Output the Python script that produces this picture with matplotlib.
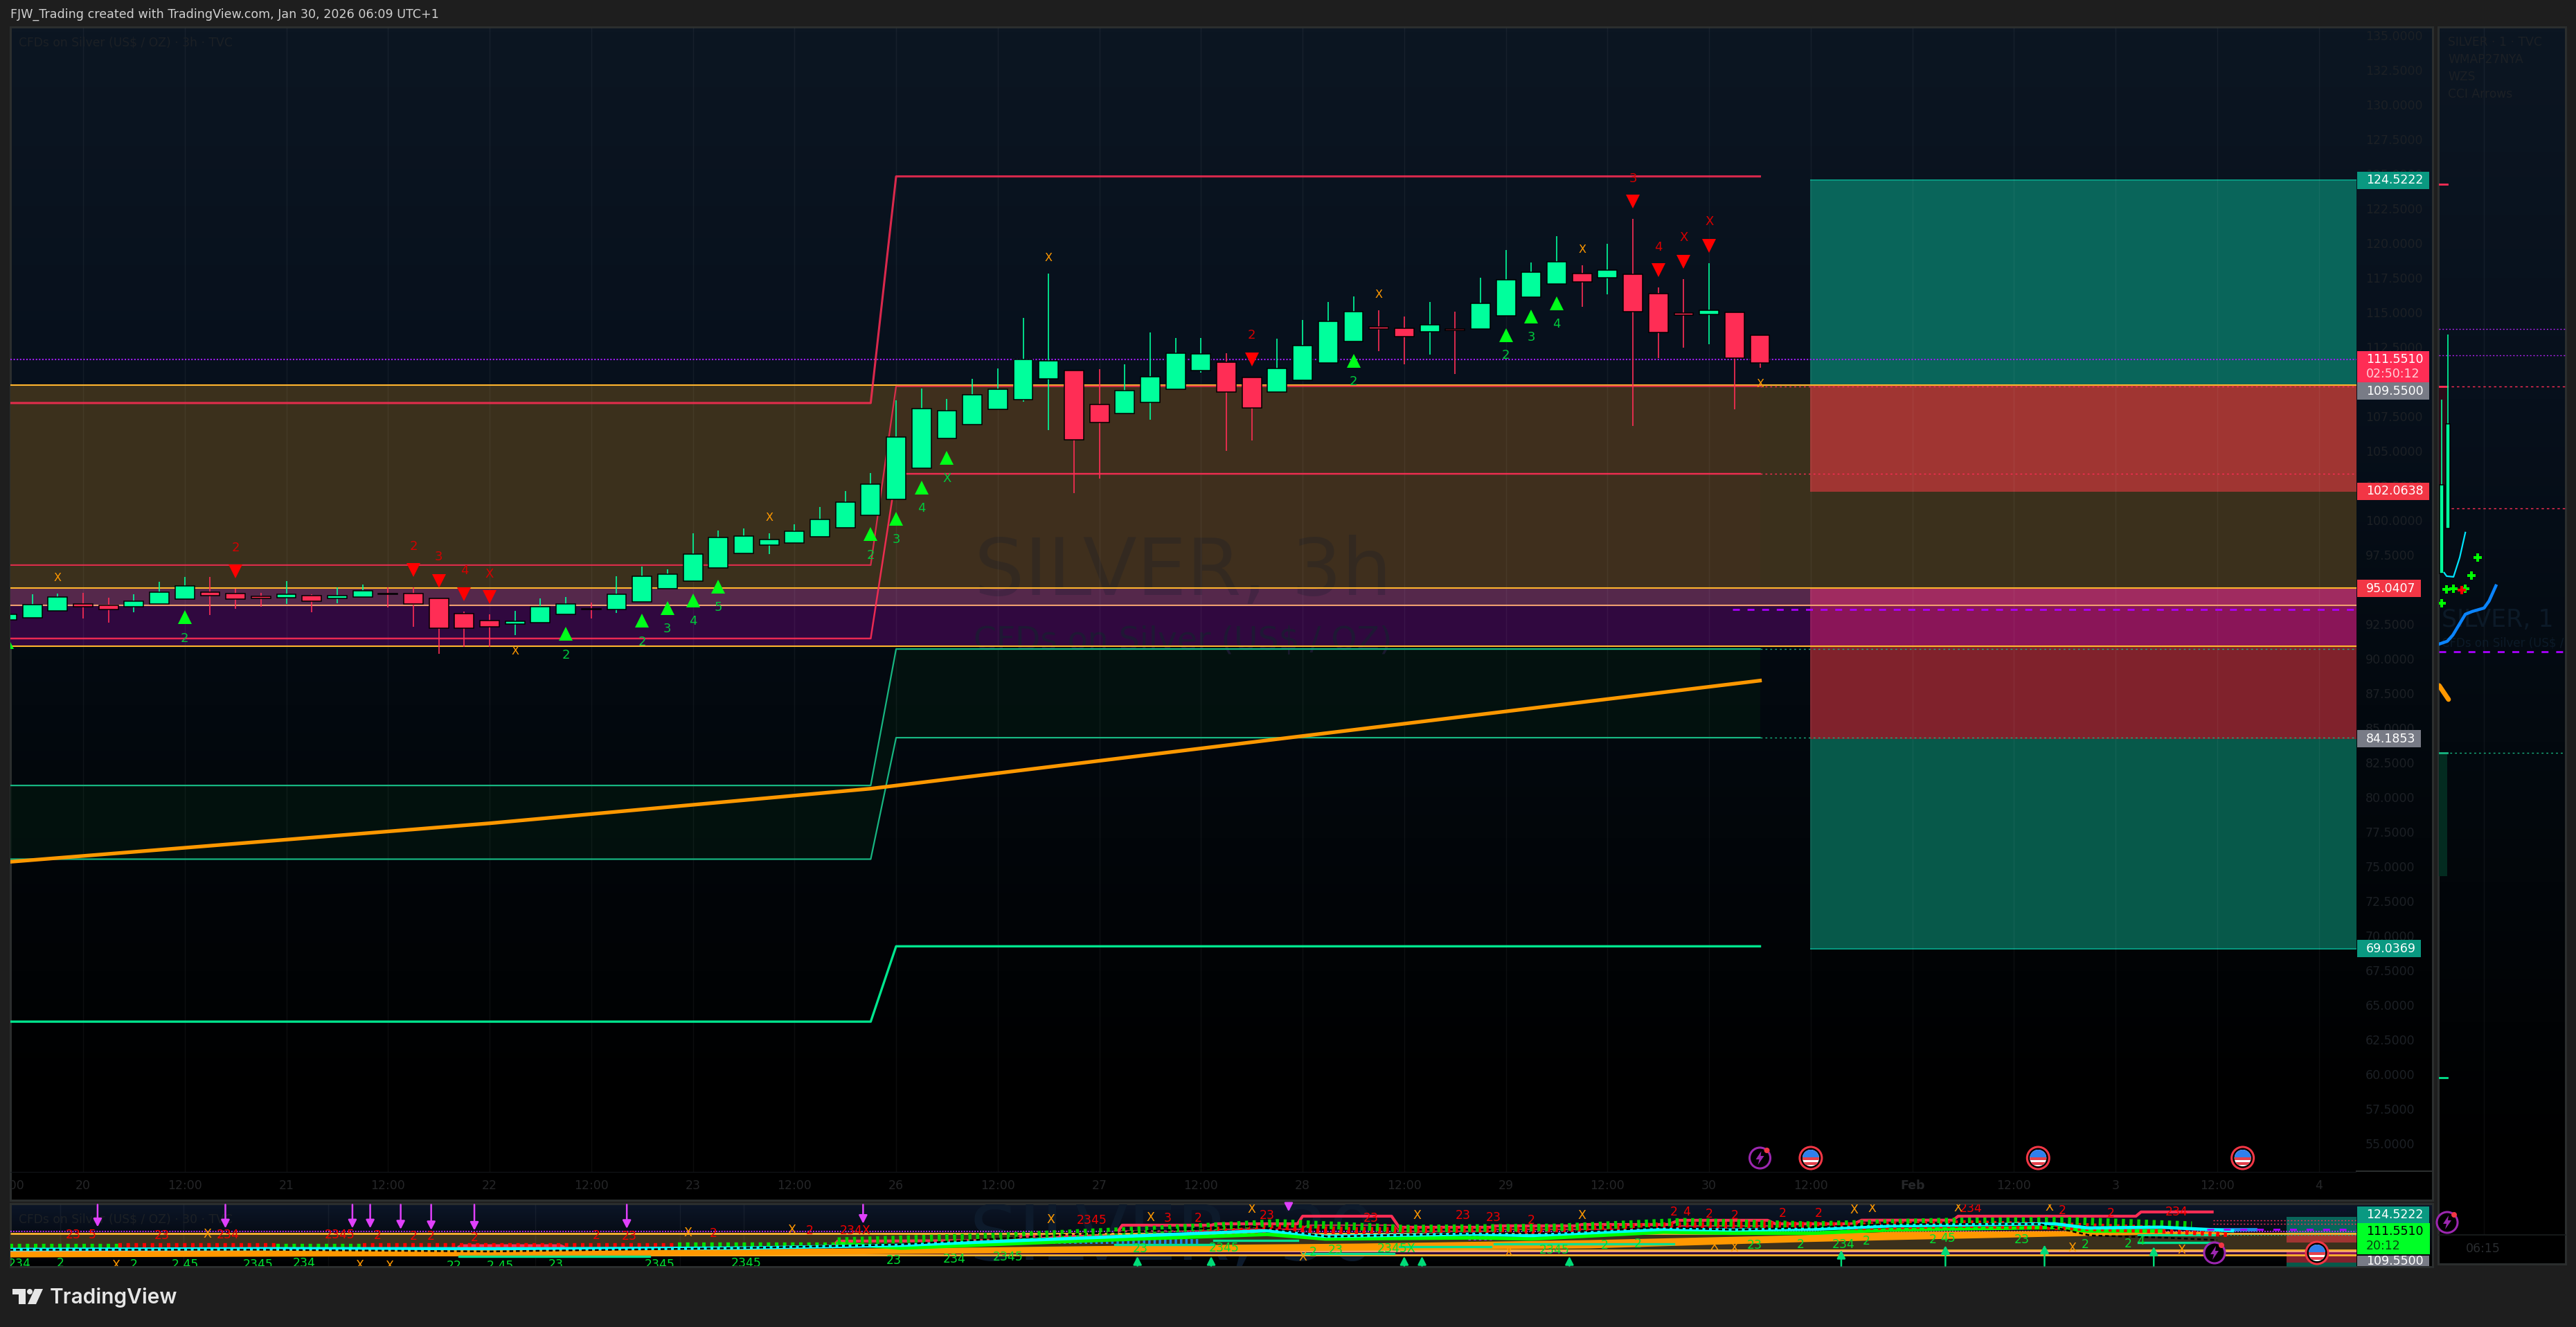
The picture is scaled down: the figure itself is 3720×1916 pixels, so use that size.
import matplotlib
matplotlib.use('Agg')
import matplotlib.pyplot as plt
import numpy as np
from matplotlib.colors import LinearSegmentedColormap
from matplotlib.patches import Circle, Polygon, Rectangle

W, H = 3720, 1916

# 3h candles, first bar is index -3 (20 Jan 00:00 is index 0)
opens = [92.77, 92.95, 93.42, 93.92, 93.82, 93.72, 93.92, 94.30, 94.77, 94.67, 94.47, 94.40, 94.52, 94.35, 94.45,
         94.69, 94.67, 94.32, 93.22, 92.72, 92.50, 92.57, 93.17, 93.59, 93.52, 94.07, 95.02, 95.57, 96.52, 97.60,
         98.20, 98.35, 98.77, 99.42, 100.32, 101.47, 103.72, 105.87, 106.87, 107.97, 108.67, 110.19, 110.80, 108.32,
         107.67, 108.47, 109.42, 110.79, 111.40, 110.29, 109.22, 110.09, 111.34, 112.89, 113.95, 113.85, 113.57,
         113.80, 113.79, 114.74, 116.09, 117.04, 117.79, 117.47, 117.75, 116.35, 114.95, 114.85, 114.97, 113.32]
closes = [93.17, 93.87, 94.42, 93.75, 93.55, 94.12, 94.77, 95.22, 94.55, 94.30, 94.35, 94.62, 94.15, 94.52, 94.87,
          94.65, 93.95, 92.17, 92.17, 92.30, 92.67, 93.75, 93.92, 93.55, 94.62, 95.92, 96.07, 97.52, 98.72, 98.82,
          98.57, 99.17, 100.02, 101.27, 102.57, 105.97, 108.02, 107.87, 109.02, 109.42, 111.59, 111.50, 105.77, 107.02,
          109.32, 110.35, 112.05, 112.00, 109.22, 108.07, 110.95, 112.60, 114.35, 115.05, 113.77, 113.22, 114.10,
          113.67, 115.65, 117.35, 117.90, 118.65, 117.17, 118.05, 115.04, 113.54, 114.77, 115.12, 111.67, 111.32]
highs = [93.17, 94.65, 94.69, 94.74, 94.37, 94.65, 95.54, 95.89, 95.89, 95.04, 94.74, 95.59, 94.62, 95.14, 95.34,
         95.14, 95.14, 94.32, 93.39, 93.19, 93.44, 94.32, 94.44, 94.04, 95.94, 96.62, 96.44, 99.04, 99.24, 99.39,
         99.04, 99.69, 100.94, 102.09, 103.39, 108.64, 109.49, 108.74, 110.19, 110.94, 114.59, 117.79, 110.80, 110.89,
         111.24, 113.54, 113.14, 113.14, 112.04, 110.29, 113.09, 114.44, 115.74, 116.14, 115.14, 114.69, 115.74,
         115.04, 117.49, 119.49, 118.59, 120.49, 118.39, 119.94, 121.74, 116.79, 117.39, 118.54, 114.97, 113.32]
lows = [92.77, 92.95, 93.42, 92.89, 92.59, 93.34, 93.92, 94.30, 93.14, 93.59, 93.74, 93.94, 93.34, 93.99, 94.45,
        93.69, 92.29, 90.34, 90.82, 90.82, 91.69, 92.57, 93.17, 92.89, 93.29, 94.07, 95.02, 95.57, 96.52, 97.60,
        97.54, 98.35, 98.77, 99.42, 100.32, 101.47, 103.72, 105.87, 106.87, 107.97, 108.54, 106.49, 101.94, 103.00,
        107.67, 107.25, 109.42, 110.64, 105.00, 105.75, 109.22, 110.09, 111.34, 112.89, 112.19, 111.24, 111.94,
        110.54, 113.79, 114.74, 116.09, 117.04, 115.39, 116.29, 106.79, 111.69, 112.44, 112.69, 107.99, 110.99]
bar_idx = list(range(-3, 67))

# channel lines
step_x = [-3, 31, 32, 66]
red_upper = [108.44, 108.44, 124.80, 124.80]
red_mid = [96.74, 96.74, 109.65, 109.65]
red_lower = [91.44, 91.44, 103.33, 103.33]
green_upper = [80.83, 80.83, 90.68, 90.68]
green_lower = [75.51, 75.51, 84.28, 84.28]
green_bottom = [63.78, 63.78, 69.22, 69.22]
ma_x = [-3, 16, 31, 48, 66]
ma_y = [75.3, 78.1, 80.6, 84.4, 88.4]

# horizontal levels
level_purple = 111.58
level_orange = [109.73, 95.085, 90.90]
level_salmon = 93.835
level_dash = 93.53

# right hand risk boxes
box_tops = [124.52, 109.73, 102.06, 95.085, 93.835, 90.90, 84.19]
box_bots = [109.73, 102.06, 95.085, 93.835, 90.90, 84.19, 69.04]
box_colors = ['#09655A', '#A03532', '#3B301C', '#A02B60', '#8A1558', '#80222C', '#07594A']

# signal markers, main pane
up_x = [-3, 4, 19, 22, 23, 24, 25, 31, 32, 33, 34, 50, 56, 57, 58]
up_y = [91.2, 92.99, 91.79, 92.75, 93.64, 94.19, 95.19, 98.99, 100.09, 102.33, 104.5, 111.5, 113.33, 114.68, 115.63]
up_txt = ['', '2', '2', '2', '3', '4', '5', '2', '3', '4', 'X', '2', '2', '3', '4']
up_txt_y = [90, 91.45, 90.25, 91.2, 92.12, 92.7, 93.67, 97.45, 98.57, 100.82, 103.0, 110.0, 111.87, 113.17, 114.12]
down_x = [6, 13, 14, 15, 16, 46, 61, 62, 63, 64]
down_y = [96.29, 96.4, 95.59, 94.65, 94.45, 111.58, 122.98, 118.03, 118.63, 119.78]
down_txt = ['2', '2', '3', '4', 'X', '2', '3', '4', 'X', 'X']
down_txt_y = [98.0, 98.09, 97.32, 96.34, 96.1, 113.32, 124.65, 119.7, 120.37, 121.53]
cross_x = [-1, 17, 27, 38, 51, 59, 66]
cross_y = [95.82, 90.53, 100.18, 118.92, 116.24, 119.49, 109.83]

# axis labels
price_ticks = [55 + 2.5 * k for k in range(33)]
time_pos = [-3, 0, 4, 8, 12, 16, 20, 24, 28, 32, 36, 40, 44, 48, 52, 56, 60, 64, 68, 72, 76, 80, 84, 88]
time_txt = ['12:00', '20', '12:00', '21', '12:00', '22', '12:00', '23', '12:00', '26', '12:00', '27', '12:00', '28',
            '12:00', '29', '12:00', '30', '12:00', 'Feb', '12:00', '3', '12:00', '4']
event_flags = [68, 76.95, 85]
event_bolt = [66]

# lower pane (30m)
low_red_x = [29.5, 29.7, 36.7, 36.9, 40.6, 40.9, 44.4, 44.6, 47.8, 48.0, 51.5, 51.8, 55.4, 55.5, 58.7, 59.0, 62.4, 62.8,
             66.3, 66.6, 69.7, 70.0, 73.6, 73.8, 80.8, 81.0, 83.8]
low_red_y = [98.2, 103.0, 103.6, 107.3, 107.3, 117.0, 117.0, 118.2, 118.2, 124.9, 124.9, 115.2, 115.2, 116.4, 116.4,
             117.6, 117.6, 121.3, 121.3, 118.2, 118.2, 121.4, 121.4, 124.9, 124.9, 128.6, 128.6]
low_red2_x = [40.6, 44.5, 44.6, 47.9, 48.2, 51.6, 51.8, 55.4, 55.5, 62.6, 62.9, 66.4]
low_red2_y = [111.9, 111.9, 113.4, 113.4, 117.0, 117.0, 111.7, 111.7, 113.4, 113.4, 116.4, 116.4]
low_cyan_x = [-2.9, 7.6, 18.5, 26.1, 32.2, 39.0, 46.6, 48.9, 54.8, 57.0, 62.2, 64.9, 68.1, 71.2, 77.6, 78.9, 81.8, 84.6]
low_cyan_y = [95.76, 96.37, 96.37, 96.97, 99.40, 105.48, 112.16, 107.30, 109.12, 107.91, 113.38, 112.77, 113.38, 116.41,
              118.24, 114.59, 115.20, 112.16]
low_green_x = [29.7, 32.2, 39, 46.6, 48.9, 54.8, 57, 62.2, 64.9, 68.1, 71.2, 77.6, 78.9, 81.8]
low_green_y = [101, 97, 103, 109, 105, 106, 105, 111, 110, 110, 113, 115, 112, 112]
low_band_x = [-2.9, 26.1, 32.2, 41.2, 50.2, 59.3, 67.6, 71.2, 77.6, 83.8, 84.5]
low_band_top = [93.93, 96.37, 96.97, 99.40, 101.22, 104.26, 108.51, 111.55, 112.16, 111.55, 110.3]
low_band_bot = [89.07, 90.90, 92.11, 93.33, 95.15, 97.0, 102.44, 104.26, 107.30, 110.0, 110.0]
low_black_x = [-2.9, 7, 16, 26, 32, 39, 46, 49, 55, 58, 62, 65, 68, 71, 77, 79, 82, 84]
low_black_y = [95.5, 95.5, 94, 97, 100, 109, 116, 107, 110, 110, 115, 113, 115, 118, 118, 108, 106, 104]
low_tick_green = [(-2.9, 1.4, 98.0), (7.6, 11.0, 98.0), (23.4, 29.7, 99.5)]
low_tick_red = [(1.4, 7.6, 99.0), (11.0, 23.4, 98.5)]
low_tick_green_up_x = [29.7, 36, 42, 47, 52, 58, 63, 68, 73, 78, 83]
low_tick_green_up_y = [103, 107, 113, 119, 114, 115, 120, 117, 120, 121, 117]
low_tick_red_x = [44, 47, 50, 54, 58, 62, 66, 70, 74, 78, 82, 84.4]
low_tick_red_y = [112, 114, 112, 112, 112, 116, 117, 116, 118, 116, 113, 110]
low_teal = [([14.8, 22.3], [89.5, 89.5]), ([40.6, 44.5], [100.2, 100.2]), ([44.5, 47.8], [103.9, 103.9]),
            ([48, 51.6], [92, 92]), ([51.8, 55.4], [98.2, 98.2]), ([55.55, 62.6], [100.6, 100.6]),
            ([80.9, 83.9], [108.3, 108.3]), ([80.9, 83.9], [101.8, 101.8])]
arrow_dn_x = [0.57, 5.6, 10.6, 11.3, 12.5, 13.7, 15.4, 21.4, 30.7, 47.45]
arrow_dn_y = [115.4, 114.4, 114.4, 114.4, 113.4, 112.8, 112.4, 114, 118.4, 129]
arrow_up_x = [41.5, 44.4, 52, 52.7, 58.5, 69.2, 73.3, 77.2, 81.5]
arrow_up_y = [89.7, 89.7, 89.7, 89.7, 89.7, 95.2, 99.2, 99.8, 98.2]
low_red_txt = [(-0.4, 108.7, '23'), (0.35, 108.7, '5'), (3.1, 107.9, '23'), (5.7, 108.7, '234'), (10.1, 108.7, '2345'),
               (11.6, 107.9, '2'), (13, 107.3, '2'), (13.7, 107.3, '2'), (15.4, 105.9, '2'), (20.2, 107.9, '2'),
               (21.5, 107.3, '23'), (24.8, 109.9, '2'), (28.6, 112.4, '2'), (30.4, 112.4, '234X'), (39.7, 121.5, '2345'),
               (42.7, 123.1, '3'), (43.9, 123.3, '2'), (46.6, 125.5, '23'), (50.7, 122.9, '23'), (54.3, 125.3, '23'),
               (55.5, 123.5, '23'), (57, 121.5, '2'), (62.6, 128.6, '2'), (63.1, 128.6, '4'), (64, 126.9, '2'),
               (65, 125.5, '2'), (66.9, 127.6, '2'), (68.3, 127.6, '2'), (74.3, 131.6, '234'), (77.9, 130, '2'),
               (79.8, 127.6, '2'), (82.4, 128.6, '234')]
low_green_txt = [(-2.5, 83, '234'), (-0.9, 83.6, '2'), (2, 82.6, '2'), (4, 82.6, '2 45'), (6.9, 82.6, '2345'),
                 (8.7, 83.6, '234'), (14.6, 81, '22'), (16.4, 81, '2 45'), (18.6, 82.6, '23'), (22.7, 82.6, '2345'),
                 (26.1, 83.6, '2345'), (31.9, 86, '23'), (34.3, 87, '234'), (36.4, 89, '2345'), (41.6, 96.2, '23'),
                 (44.9, 97.2, '2345'), (48.4, 93.1, '2'), (49.3, 95.2, '23'), (51.7, 96.2, '2345X'),
                 (57.9, 95.2, '2345'), (59.9, 99.2, '2'), (61.2, 100.8, '2'), (65.8, 99.2, '23'), (67.6, 100.2, '2'),
                 (69.3, 100.2, '234'), (70.2, 103.3, '2'), (72.8, 104.3, '2'), (73.4, 105.3, '45'), (76.3, 104.3, '23'),
                 (78.8, 100.2, '2'), (80.5, 100.6, '2'), (81, 103.3, '4')]
low_orange_x = [4.9, 23.8, 27.9, 1.3, 10.9, 12.05, 38.1, 42, 46, 52.5, 59, 56.1, 48, 64.2, 65, 69.7, 70.4, 73.8, 77.4,
                78.3, 82.6]
low_orange_y = [109.1, 110.3, 112.8, 82, 82, 81, 121.9, 123.5, 131, 125.5, 125.3, 93.1, 89, 98.6, 97.2, 130.2, 131.6, 132,
                133, 97.2, 95.2]
low_grid = [-0.9, 3.95, 9.65, 17.8, 23.5, 26]

# right pane (1m)
r_open = [96.14, 99.39]
r_close = [102.54, 106.94]
r_high = [108.69, 113.39]
r_low = [96.14, 99.39]
r_cyan_x = [0.4, 0.8, 1.9, 2.9, 3.8]
r_cyan_y = [96.19, 95.94, 95.89, 97.29, 99.09]
r_blue_x = [-0.4, 0.9, 1.8, 3.8, 4.9, 6.8, 7.6, 8.7]
r_blue_y = [91.04, 91.24, 91.69, 93.19, 93.39, 93.64, 94.14, 95.24]
r_orange_x = [-0.4, 1.1]
r_orange_y = [88.04, 87.04]
r_plus_x = [0, 0.8, 1.9, 3.8, 4.8, 5.8]
r_plus_y = [93.99, 94.99, 95.04, 95.04, 95.99, 97.29]

# price tags
tag_vals = ['124.5222', '102.0638', '95.0407', '84.1853', '69.0369']
tag_prices = [124.5222, 102.0638, 95.0407, 84.1853, 69.0369]
tag_colors = ['#0A9981', '#F23645', '#F23645', '#787B86', '#0A9981']
tag_right = [3508, 3508, 3496, 3496, 3496]

# scale of the main pane
PX_PER_BAR = 36.69
BAR0_PX = 120.0
PX_PER_USD = 20.0
USD100_PX = 750.7

C_UP = '#00FF9C'
C_DN = '#FF2D55'
C_ORANGE = '#FFB52E'
C_FAINT = '#1C2025'
C_TIME = '#252628'
C_MARK_G = '#00C93C'
C_MARK_R = '#D40000'
C_X = '#FF9800'


def bar_to_px(i):
    return BAR0_PX + PX_PER_BAR * i


def px_to_bar(px):
    return (px - BAR0_PX) / PX_PER_BAR


def price_to_px(p):
    return USD100_PX + (100 - p) * PX_PER_USD


def px_to_price(py):
    return 100 - (py - USD100_PX) / PX_PER_USD


def add_px_axes(fig, x0, y0, x1, y1, zorder=2):
    """ Axes placed by pixel box, y0 is the top """
    ax = fig.add_axes([x0 / W, 1 - y1 / H, (x1 - x0) / W, (y1 - y0) / H], zorder=zorder)
    ax.patch.set_visible(False)
    for s in ax.spines.values():
        s.set_visible(False)
    return ax


def candles(ax, idx, o, c, h, l, width):
    up = np.array(c) >= np.array(o)
    cols = np.where(up, C_UP, C_DN)
    ax.vlines(idx, l, h, colors=cols, lw=1.4, alpha=0.85, zorder=4)
    bottoms = np.minimum(o, c)
    heights = np.abs(np.array(c) - np.array(o))
    ax.bar(idx, heights, width=width, bottom=bottoms, color=cols, edgecolor='black', lw=1.1, zorder=4.5)


def flag_icon(ax, cx, cy):
    ax.add_patch(Circle((cx, cy), 16, fc='black', ec='#F23645', lw=2.2, zorder=3))
    disc = Circle((cx, cy), 12, fc='white', ec='none', zorder=3.1)
    ax.add_patch(disc)
    for dy in (-1, 6):
        r = Rectangle((cx - 12, cy + dy), 24, 3.5, fc='#E5404A', ec='none', zorder=3.2)
        ax.add_patch(r)
        r.set_clip_path(disc)
    r = Rectangle((cx - 12, cy - 12), 24, 11, fc='#2F80ED', ec='none', zorder=3.3)
    ax.add_patch(r)
    r.set_clip_path(disc)


def bolt_icon(ax, cx, cy):
    ax.add_patch(Circle((cx, cy), 15, fc='black', ec='#9C27B0', lw=2.2, zorder=3))
    ax.add_patch(Polygon([(cx + 2, cy - 10), (cx - 6, cy + 2), (cx - 1, cy + 2), (cx - 3, cy + 10), (cx + 6, cy - 3),
                          (cx + 1, cy - 3)], fc='#9C27B0', ec='none', zorder=3.1))
    ax.add_patch(Circle((cx + 10, cy - 11), 4, fc='#F23645', ec='none', zorder=3.2))


def price_tag(ax, y0, y1, txt, color, x1=3508, txt_color='white'):
    ax.add_patch(Rectangle((3404, y0), x1 - 3404, y1 - y0, fc=color, ec='none', zorder=2))
    ax.text(3417, (y0 + y1) / 2, txt, color=txt_color, fontsize=12.5, va='center', ha='left', zorder=3)


fig = plt.figure(figsize=(W / 100, H / 100), dpi=100, facecolor='#1E1E1E')

# background: pane gradients and borders
bg = fig.add_axes([0, 0, 1, 1], zorder=0)
bg.axis('off')
grad = LinearSegmentedColormap.from_list('pane', [(0, '#0C1622'), (0.3, '#07101C'), (0.58, '#03090F'), (0.92, '#000000'),
                                                  (1, '#000000')])
ramp = np.linspace(0, 1, 256).reshape(-1, 1)
bg.imshow(ramp, cmap=grad, aspect='auto', extent=(15, 3513, 1733, 39))
bg.imshow(ramp, cmap=grad, aspect='auto', extent=(3521, 3705, 1825, 39))
bg.imshow(ramp, cmap=LinearSegmentedColormap.from_list('low', ['#0C1628', '#000000']), aspect='auto',
          extent=(15, 3513, 1829, 1738))
bg.set_xlim(0, W)
bg.set_ylim(H, 0)
for x0, y0, x1, y1 in [(15, 39, 3513, 1733), (3521, 39, 3705, 1825), (15, 1738, 3513, 1829)]:
    bg.add_patch(Rectangle((x0, y0), x1 - x0, y1 - y0, fc='none', ec='#2B2E2E', lw=2.2, zorder=5))
bg.text(15, 21, 'FJW_Trading created with TradingView.com, Jan 30, 2026 06:09 UTC+1', color='#CFCFCF', fontsize=12.65,
        va='center', ha='left')

# main pane
ax = add_px_axes(fig, 15, 40, 3403, 1692)
xlim = (px_to_bar(15), px_to_bar(3403))
ax.set_xlim(xlim)
ax.set_ylim(px_to_price(1692), px_to_price(40))
ax.yaxis.tick_right()
ax.set_yticks(price_ticks)
ax.set_yticklabels(['%.4f' % p for p in price_ticks], color=C_FAINT, fontsize=12.5)
ax.tick_params(axis='y', length=0, pad=9.4)
ax.set_xticks([])

# zones
ax.fill_between([xlim[0], 32], 95.085, 109.73, color='#3B301C', lw=0, zorder=1)
ax.fill_between([32, 66], 95.085, 109.73, color='#3F2F1D', lw=0, zorder=1)
ax.fill_between([66, xlim[1]], 95.085, 109.73, color='#3B301C', lw=0, zorder=1)
ax.fill_between(xlim, level_salmon, 95.085, color='#55284B', lw=0, zorder=1)
ax.fill_between(xlim, 90.90, level_salmon, color='#30083F', lw=0, zorder=1)
ax.fill_between(step_x, green_lower, green_upper, color='#03150F', alpha=0.75, lw=0, zorder=1)
for top, bot, col in zip(box_tops, box_bots, box_colors):
    ax.fill_between([px_to_bar(2614), xlim[1]], bot, top, color=col, lw=0, zorder=1.2)
ax.hlines([124.52, 69.04], px_to_bar(2614), xlim[1], colors='#089981', lw=1.4, zorder=1.3)

# watermark and legend
ax.text(px_to_bar(1708), px_to_price(828), 'SILVER, 3h', color='#0F1A2B', alpha=0.24, fontsize=82, ha='center',
        va='center', zorder=1.5)
ax.text(px_to_bar(1708), px_to_price(925), 'CFDs on Silver (US$ / OZ)', color='#1D1A33', alpha=0.9, fontsize=34,
        ha='center', va='center', zorder=1.5)
ax.text(px_to_bar(27), px_to_price(62), 'CFDs on Silver (US$ / OZ) \u00b7 3h \u00b7 TVC', color=C_FAINT, fontsize=12.3,
        ha='left', va='center')

ax.vlines(time_pos[1:], ax.get_ylim()[0], ax.get_ylim()[1], colors='white', alpha=0.05, lw=1, zorder=1.6)

# levels and channels
ax.hlines(level_orange, xlim[0], xlim[1], colors=C_ORANGE, lw=1.5, zorder=2.5)
ax.hlines(level_salmon, xlim[0], xlim[1], colors='#F0A070', lw=1.5, zorder=2.5)
ax.hlines(level_purple, xlim[0], xlim[1], colors='#A11CF5', lw=1.5, linestyles=(0, (1, 1.2)), zorder=2.5)
ax.hlines(level_dash, px_to_bar(2502), xlim[1], colors='#AA00FF', lw=2, linestyles=(0, (3.6, 4)), zorder=2.5)
ax.plot(step_x, red_upper, color=C_DN, lw=2.2, alpha=0.85, zorder=3)
ax.plot(step_x, red_mid, color=C_DN, lw=1.6, alpha=0.8, zorder=3)
ax.plot(step_x, red_lower, color=C_DN, lw=1.8, alpha=0.9, zorder=3)
ax.plot(step_x, green_upper, color='#17B581', lw=1.6, zorder=3)
ax.plot(step_x, green_lower, color='#17B581', lw=1.6, zorder=3)
ax.plot(step_x, green_bottom, color='#00E68E', lw=2.4, zorder=3)
ax.plot(ma_x, ma_y, color='#FF9800', lw=3.8, zorder=3.2)
ax.hlines([red_mid[-1], red_lower[-1]], 66, xlim[1], colors=C_DN, lw=1, linestyles=(0, (2, 3)), zorder=2.6)
ax.hlines([green_upper[-1], green_lower[-1]], 66, xlim[1], colors='#17B581', lw=1, linestyles=(0, (2, 3)), zorder=2.6)

candles(ax, bar_idx, opens, closes, highs, lows, 0.76)

# signals
ax.plot(up_x, up_y, '^', color='#00FF1A', ms=14.5, mew=0, zorder=5)
ax.plot(down_x, down_y, 'v', color='#FF0000', ms=14.5, mew=0, zorder=5)
for x, y, t in zip(up_x, up_txt_y, up_txt):
    ax.text(x, y, t, color=C_MARK_G, fontsize=13, ha='center', va='center', zorder=5)
for x, y, t in zip(down_x, down_txt_y, down_txt):
    ax.text(x, y, t, color=C_MARK_R, fontsize=13, ha='center', va='center', zorder=5)
for x, y in zip(cross_x, cross_y):
    ax.text(x, y, 'X', color=C_X, fontsize=11.5, ha='center', va='center', zorder=5)

# time axis
ax_time = add_px_axes(fig, 15, 1692, 3403, 1732)
ax_time.set_xlim(xlim)
ax_time.set_ylim(0, 1)
ax_time.set_xticks([])
ax_time.set_yticks([])
for x, t in zip(time_pos, time_txt):
    ax_time.text(x, 0.5, t, color=C_TIME, fontsize=12.5, ha='center', va='center', clip_on=True,
                 fontweight='bold' if t == 'Feb' else 'normal')
ax_time.axhline(1, color='#14181B', lw=1.4)

# lower pane
low = add_px_axes(fig, 15, 1739, 3403, 1828)
low.set_xlim(xlim)
low.set_ylim(81.2, 135.2)
low.set_xticks([])
low.set_yticks([])
low.vlines(low_grid, 81.2, 135.2, colors='white', alpha=0.05, lw=1, zorder=1.6)
low.fill_between(xlim, 95.085, 109.73, color='#3B301C', lw=0, zorder=1)
low.fill_between(xlim, level_salmon, 95.085, color='#55284B', lw=0, zorder=1)
low.fill_between(xlim, 90.90, level_salmon, color='#30083F', lw=0, zorder=1)
for top, bot, col in zip(box_tops + [69.04], box_bots + [60], box_colors + ['#07594A']):
    low.fill_between([px_to_bar(3302), xlim[1]], bot, top, color=col, lw=0, zorder=1.2)
low.text(px_to_bar(1400), 105, 'SILVER, 30', color='#0D1A2B', fontsize=80, ha='left', va='center', zorder=0.5,
         clip_on=True)
low.text(px_to_bar(27), 122, 'CFDs on Silver (US$ / OZ) \u00b7 30 \u00b7 TVC', color=C_FAINT, fontsize=12.3, ha='left',
         va='center', clip_on=True)
low.hlines(level_orange, xlim[0], xlim[1], colors=C_ORANGE, lw=2, zorder=2.5)
low.hlines(level_salmon, xlim[0], xlim[1], colors='#F0A070', lw=1.5, zorder=2.5)
low.hlines(level_purple, xlim[0], xlim[1], colors='#C030F5', lw=1.4, linestyles=(0, (1, 1)), zorder=2.5)
low.hlines([121.3, 118.2], px_to_bar(3196), xlim[1], colors=C_DN, lw=1, linestyles=(0, (1.5, 2)), zorder=2.6)
low.hlines(108.5, px_to_bar(3196), xlim[1], colors='#17B581', lw=1, linestyles=(0, (1.5, 2)), zorder=2.6)
low.hlines(level_dash + 20, 83.6, xlim[1], colors='#AA00FF', lw=2, linestyles=(0, (3.6, 5)), zorder=4)
low.fill_between(low_band_x, low_band_bot, low_band_top, color='#FF9800', lw=0, zorder=3)
for xs, ys in low_teal:
    low.plot(xs, ys, color='#00E090', lw=2.4, zorder=3.1)
low.plot(low_red2_x, low_red2_y, color='#C8284C', lw=1.6, zorder=3.4)
low.plot(low_red_x, low_red_y, color=C_DN, lw=3, zorder=3.5)
low.plot([14.8, 14.9, 18.8, 18.9], [98, 99, 99, 98], color=C_DN, lw=3, zorder=3.5)
low.plot([83.6, 85.5], [113.4, 113.4], color='#1E88E5', lw=3.5, zorder=3.2)
low.plot([36.5, 44], [103.2, 103.2], color='#1E88E5', lw=5, ls=(0, (0.5, 0.6)), zorder=3.2)
low.plot([54.5, 55.5], [106.3, 106.3], color='#A11CF5', lw=5, ls=(0, (0.5, 0.6)), zorder=3.2)
low.plot(low_green_x, low_green_y, color='#00FF00', lw=3.8, zorder=3.6)
low.plot(low_cyan_x, low_cyan_y, color='#00FFFF', lw=3.4, zorder=3.7)
for x0, x1, y in low_tick_green:
    low.plot([x0, x1], [y, y], color='#00E000', lw=6, ls=(0, (0.6, 0.8)), zorder=3.6)
for x0, x1, y in low_tick_red:
    low.plot([x0, x1], [y, y], color='#FF0000', lw=6, ls=(0, (0.6, 0.8)), zorder=3.6)
low.plot(low_tick_red_x, low_tick_red_y, color='#FF0000', lw=8, ls=(0, (0.4, 0.6)), zorder=3.65)
low.plot(low_tick_green_up_x, low_tick_green_up_y, color='#00D000', lw=8, ls=(0, (0.4, 0.6)), zorder=3.66)
low.plot(low_black_x, low_black_y, color='black', lw=1.8, ls=(0, (2.2, 1.6)), zorder=3.9)
for x, tip in zip(arrow_dn_x, arrow_dn_y):
    low.annotate('', xy=(x, tip), xytext=(x, 135), zorder=6,
                 arrowprops=dict(arrowstyle='-|>,head_width=0.36,head_length=0.7', color='#E040FB', lw=1.8,
                                 shrinkA=0, shrinkB=0))
for x, tip in zip(arrow_up_x, arrow_up_y):
    low.annotate('', xy=(x, tip), xytext=(x, 81.4), zorder=6,
                 arrowprops=dict(arrowstyle='-|>,head_width=0.36,head_length=0.7', color='#00DC78', lw=1.8,
                                 shrinkA=0, shrinkB=0))
for x, y, t in low_red_txt:
    low.text(x, y, t, color='#F00000', fontsize=12.5, ha='center', va='center', zorder=6, clip_on=True)
for x, y, t in low_green_txt:
    low.text(x, y, t, color='#00E030', fontsize=12.5, ha='center', va='center', zorder=6, clip_on=True)
for x, y in zip(low_orange_x, low_orange_y):
    low.text(x, y, 'X', color=C_X, fontsize=12.5, ha='center', va='center', zorder=6, clip_on=True)

# right pane
r = add_px_axes(fig, 3522, 40, 3705, 1783)
r.set_xlim((3522 - 3526) / 9, (3705 - 3526) / 9)
r.set_ylim(px_to_price(1783), px_to_price(40))
r.set_xticks([])
r.set_yticks([])
r.vlines(6.8, px_to_price(1783), px_to_price(40), colors='white', alpha=0.05, lw=1)
r.hlines([px_to_price(474.5), px_to_price(512.5)], -1, 20, colors='#B020F0', lw=1, linestyles=(0, (1.5, 2)))
r.hlines([px_to_price(558), px_to_price(734)], -1, 20, colors=C_DN, lw=1, linestyles=(0, (2.5, 3)))
r.hlines(px_to_price(1087), -1, 20, colors='#17B581', lw=1, linestyles=(0, (2, 3)))
r.hlines(px_to_price(940.7), -0.4, 19.5, colors='#AA00FF', lw=2, linestyles=(0, (3.6, 4)))
r.plot([-0.5, 0.9], [px_to_price(266.5)] * 2, color=C_DN, lw=2)
r.plot([-0.5, 0.9], [px_to_price(558)] * 2, color=C_DN, lw=2)
r.plot([-0.5, 0.9], [px_to_price(1087)] * 2, color='#17B581', lw=2)
r.plot([-0.5, 0.9], [px_to_price(1556)] * 2, color='#00E68E', lw=2)
r.fill_between([-0.5, 0.9], px_to_price(1265), px_to_price(1087), color='#032B20', lw=0)
r.fill_between([-0.5, 0.9], px_to_price(700), px_to_price(558), color='#2A0D18', lw=0)
r.text(0, px_to_price(895), 'SILVER, 1', color='#0C1A28', fontsize=25, ha='left', va='center', clip_on=True)
r.text(0, px_to_price(929), 'CFDs on Silver (US$ / OZ)', color='#0C1A28', fontsize=12, ha='left', va='center', clip_on=True)
candles(r, [0, 1], r_open, r_close, r_high, r_low, 0.6)
r.plot(r_cyan_x, r_cyan_y, color='#00E5FF', lw=1.6, zorder=5)
r.plot(r_blue_x, r_blue_y, color='#0A84FF', lw=3.2, zorder=5)
r.plot(r_orange_x, r_orange_y, color='#FF9800', lw=5, solid_capstyle='round', zorder=5)
r.plot(r_plus_x, r_plus_y, 'P', color='#00FF00', ms=8.6, mew=0, zorder=6)
r.plot(3.2, 94.94, 'P', color='#FF0000', ms=8.6, mew=0, zorder=6)
for k, t in enumerate(['SILVER \u00b7 1 \u00b7 TVC', 'WMAP27NYA', 'WZS', 'CCI Arrows']):
    r.text(1, px_to_price(61 + 25 * k), t, color=C_FAINT, fontsize=12.3, ha='left', va='center')

# foreground: tags, icons, footer
fg = fig.add_axes([0, 0, 1, 1], zorder=10)
fg.axis('off')
fg.set_xlim(0, W)
fg.set_ylim(H, 0)
for txt, p, col, x1 in zip(tag_vals, tag_prices, tag_colors, tag_right):
    py = price_to_px(p)
    price_tag(fg, py - 12.5, py + 12.5, txt, col, x1=x1)
fg.add_patch(Rectangle((3404, 507), 104, 45, fc=C_DN, ec='none', zorder=2))
fg.text(3417, 519, '111.5510', color='white', fontsize=12.5, va='center', ha='left', zorder=3)
fg.text(3417, 540, '02:50:12', color='#FFD0D8', fontsize=12.5, va='center', ha='left', zorder=3)
price_tag(fg, 552, 577, '109.5500', '#787B86')
price_tag(fg, 1742, 1766, '124.5222', '#0A9981')
fg.add_patch(Rectangle((3404, 1766), 105, 45, fc='#00FF26', ec='none', zorder=2))
fg.text(3417, 1778, '111.5510', color='black', fontsize=12.5, va='center', ha='left', zorder=3)
fg.text(3417, 1799, '20:12', color='#0A3D10', fontsize=12.5, va='center', ha='left', zorder=3)
price_tag(fg, 1813, 1828, '109.5500', '#787B86')
fg.plot([3403, 3513], [1691, 1691], color='#2B2E2E', lw=1.5)
fg.plot([3522, 3705], [1783, 1783], color='#1A1D1F', lw=1.2)
fg.text(3586, 1803, '06:15', color='#2A2D30', fontsize=12.5, ha='center', va='center')

for e in event_flags:
    flag_icon(fg, bar_to_px(e), 1672)
for e in event_bolt:
    bolt_icon(fg, bar_to_px(e), 1672)
bolt_icon(fg, 3198, 1809)
flag_icon(fg, 3346, 1809)
bolt_icon(fg, 3534, 1765)

# TradingView logo
fg.add_patch(Polygon([(18, 1861), (37, 1861), (37, 1883), (27, 1883), (27, 1869), (18, 1869)], fc='#E6E6E6', ec='none'))
fg.add_patch(Circle((43, 1865), 4, fc='#E6E6E6', ec='none'))
fg.add_patch(Polygon([(50, 1861), (62, 1861), (52, 1883), (40, 1883)], fc='#E6E6E6', ec='none'))
fg.text(72, 1874, 'TradingView', color='#E6E6E6', fontsize=21.5, family='Inter', fontweight='semibold', va='center',
        ha='left')

fig.savefig('out.png', dpi=100, facecolor=fig.get_facecolor())
